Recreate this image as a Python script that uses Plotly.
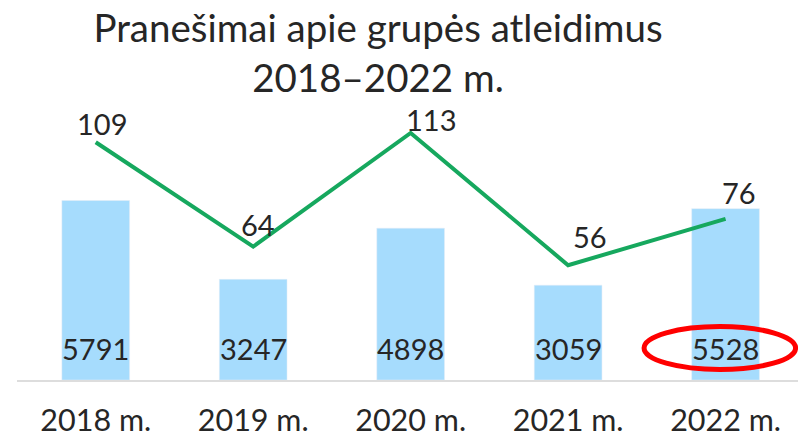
import plotly.graph_objects as go

# ---- data ----
years = ["2018 m.", "2019 m.", "2020 m.", "2021 m.", "2022 m."]
people = [5791, 3247, 4898, 3059, 5528]          # bars
notices = [109, 64, 113, 56, 76]                 # line
title_text = "Pranešimai apie grupės atleidimus<br>2018–2022 m."

# ---- styling (label nudges, pixels) ----
line_label_xshift = [6, 5, 20, 22, 13]
line_label_yshift = [-1, 3, -6, 9, 7]

FONT = "Lato"
TXT = "#262626"
BAR = "#A6DCFD"
LINE = "#16A85E"

fig = go.Figure()
fig.add_trace(go.Bar(x=years, y=people, marker_color=BAR, width=0.43,
                     hoverinfo="skip", showlegend=False))
fig.add_trace(go.Scatter(x=years, y=notices, yaxis="y2", mode="lines",
                         line=dict(color=LINE, width=4), hoverinfo="skip",
                         showlegend=False))

annotations = []
for i, (yr, v) in enumerate(zip(years, people)):
    annotations.append(dict(x=yr, y=0, xref="x", yref="y", text=str(v),
                            showarrow=False, xanchor="center", yanchor="bottom",
                            yshift=12, font=dict(family=FONT, size=29, color=TXT)))
for i, (yr, v) in enumerate(zip(years, notices)):
    annotations.append(dict(x=yr, y=v, xref="x", yref="y2", text=str(v),
                            showarrow=False, xanchor="center", yanchor="bottom",
                            xshift=line_label_xshift[i], yshift=line_label_yshift[i],
                            font=dict(family=FONT, size=29, color=TXT)))

fig.add_shape(type="circle", xref="x", yref="y", xsizemode="pixel", ysizemode="pixel",
              xanchor=years[4], yanchor=0, x0=-81.5, x1=70, y0=10.5, y1=53.5,
              line=dict(color="#FF0000", width=5))

fig.update_layout(
    width=798, height=438,
    margin=dict(l=17, r=0, t=100, b=58, autoexpand=False),
    paper_bgcolor="white", plot_bgcolor="white",
    font=dict(family=FONT, color=TXT),
    title=dict(text=title_text, x=378/798, xanchor="center", xref="container",
               y=0.905, yanchor="top", yref="container",
               font=dict(family=FONT, size=38.5, color=TXT)),
    xaxis=dict(range=[-0.5, 4.46], showline=True, linecolor="#DDDDDD", linewidth=2,
               showgrid=False, ticks="", tickfont=dict(family=FONT, size=30.5, color=TXT),
               ticklabelstandoff=12, automargin=False, fixedrange=True),
    yaxis=dict(range=[0, 9032], visible=False, showgrid=False, zeroline=False,
               automargin=False, fixedrange=True),
    yaxis2=dict(range=[6.55, 127.2], overlaying="y", visible=False, showgrid=False,
                zeroline=False, automargin=False, fixedrange=True),
    annotations=annotations,
    bargap=0.57,
)

fig.write_html("out.html", config={"displayModeBar": False},
               post_script="document.body.style.margin='0';document.body.style.overflow='hidden';")
